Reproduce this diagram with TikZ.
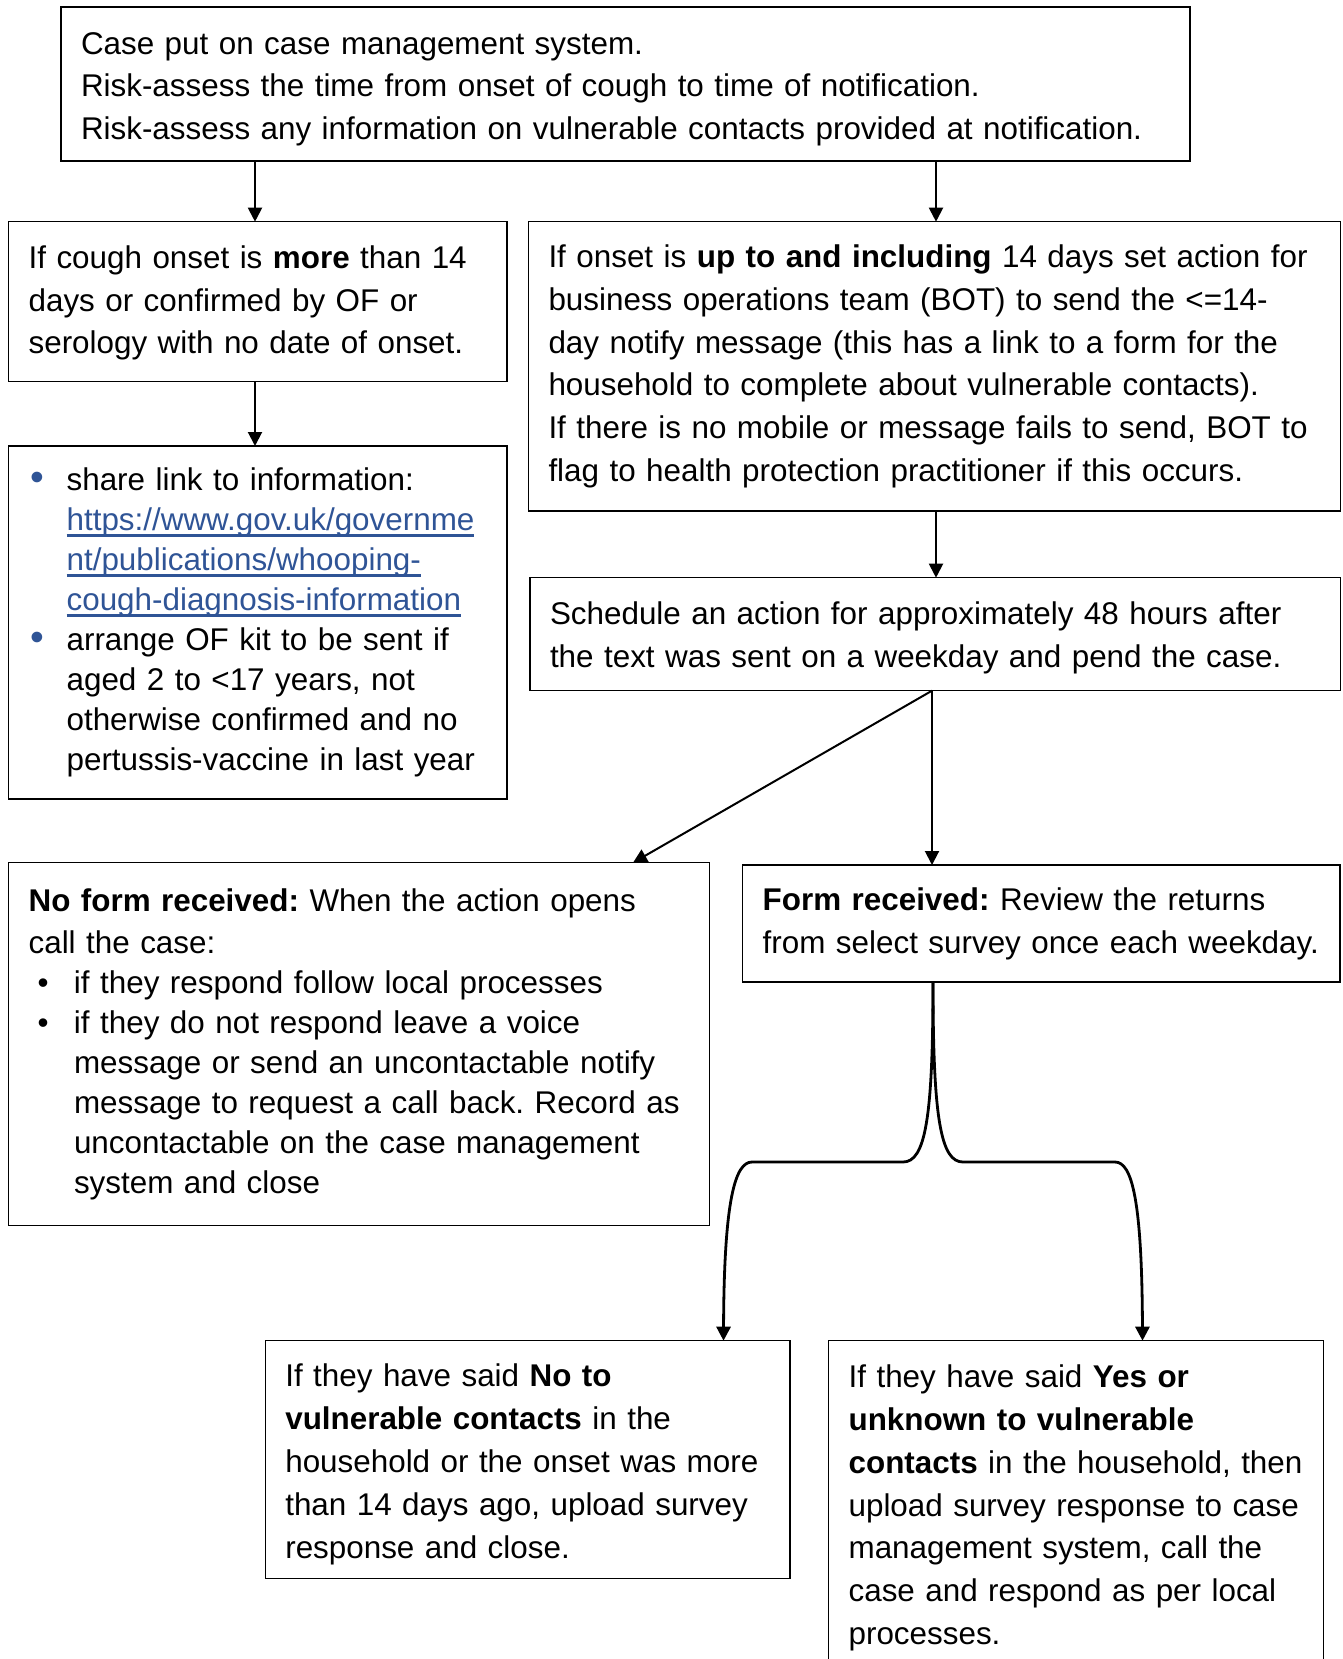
\documentclass[tikz,border=0pt]{standalone}
\usepackage{fontspec}
\setmainfont{Liberation Sans}
\usetikzlibrary{arrows.meta,calc}
\definecolor{linkblue}{RGB}{47,84,150}
\frenchspacing
\newcommand\bulb{\makebox[19pt][l]{\hspace{1pt}\textcolor{linkblue}{\scalebox{1.25}{\textbullet}}}}
\newcommand\indb{\hspace*{19pt}}
\newcommand\bulk{\makebox[22.7pt][l]{\hspace{4.5pt}\textbullet}}
\newcommand\indk{\hspace*{22.7pt}}
\newcommand\lnk[1]{\textcolor{linkblue}{\setbox0\hbox{#1}\rlap{\rule[-3pt]{\wd0}{1.1pt}}\box0}}
\newcommand\tstrut[1]{\rule{0pt}{#1}}
\begin{document}
\begin{tikzpicture}[x=0.5pt,y=-0.5pt,
  box/.style={draw, line width=0.75pt, rectangle, anchor=north west, align=left,
    inner xsep=10pt, inner ysep=0pt, outer sep=0pt, font=\fontsize{15.7}{21.4}\selectfont\frenchspacing},
  arr/.style={line width=1pt, -{Triangle[length=7pt,width=7pt]}},
  brc/.style={line width=1.4pt, -{Triangle[length=7pt,width=7pt]}},
]
\useasboundingbox (0,0) rectangle (1343,1659);
\clip (0,0) rectangle (1343,1659);

\node[box, font=\fontsize{15.7}{21.2}\selectfont\frenchspacing, minimum width=564.5pt, minimum height=77pt, text width=544.5pt] (top) at (61,7)
{\tstrut{16pt}Case put on case management system.\\
Risk-assess the time from onset of cough to time of notification.\\
Risk-assess any information on vulnerable contacts provided at notification.};

\node[box, minimum width=249.2pt, minimum height=80pt, text width=229.2pt] (L1) at (8.6,221.7)
{\tstrut{12.6pt}If cough onset is \textbf{more} than 14\\
days or confirmed by OF or\\
serology with no date of onset.};

\node[box, font=\fontsize{15.7}{21.35}\selectfont\frenchspacing, minimum width=406pt, minimum height=144.65pt, text width=386pt] (R1) at (528.5,221.7)
{If onset is \textbf{up to and including} 14 days set action for\\
business operations team (BOT) to send the <=14-\\
day notify message (this has a link to a form for the\\
household to complete about vulnerable contacts).\\
If there is no mobile or message fails to send, BOT to\\
flag to health protection practitioner if this occurs.};

\node[box, font=\fontsize{15.7}{20}\selectfont\frenchspacing, minimum width=249.2pt, minimum height=176.5pt, text width=229.2pt] (L2) at (8.6,446)
{\bulb share link to information:\\
\indb\lnk{https://www.gov.uk/governme}\\
\indb\lnk{nt/publications/whooping-}\\
\indb\lnk{cough-diagnosis-information}\\
\bulb arrange OF kit to be sent if\\
\indb aged 2 to <17 years, not\\
\indb otherwise confirmed and no\\
\indb pertussis-vaccine in last year};

\node[box, font=\fontsize{15.7}{21.7}\selectfont\frenchspacing, minimum width=405.25pt, minimum height=56.5pt, text width=385.25pt] (R2) at (530,577.7)
{\tstrut{15.3pt}Schedule an action for approximately 48 hours after\\
the text was sent on a weekday and pend the case.};

\node[box, font=\fontsize{15.7}{19.95}\selectfont\frenchspacing, minimum width=350.35pt, minimum height=181.4pt, text width=330.35pt] (NF) at (8.6,862.7)
{\textbf{No form received:} When the action opens\\[1.2pt]
call the case:\\
\bulk if they respond follow local processes\\
\bulk if they do not respond leave a voice\\
\indk message or send an uncontactable notify\\
\indk message to request a call back. Record as\\
\indk uncontactable on the case management\\
\indk system and close};

\node[box, minimum width=298.65pt, minimum height=58.5pt, text width=278.65pt] (FR) at (742.7,865)
{\textbf{Form received:} Review the returns\\
from select survey once each weekday.};

\node[box, minimum width=262.35pt, minimum height=118.8pt, text width=242.35pt] (BL) at (265.3,1340.7)
{\tstrut{16.2pt}If they have said \textbf{No to}\\
\textbf{vulnerable contacts} in the\\
household or the onset was more\\
than 14 days ago, upload survey\\
response and close.};

\node[box, inner ysep=12.1pt, minimum width=247.45pt, text width=227.45pt] (BR) at (828.6,1340.7)
{If they have said \textbf{Yes or}\\
\textbf{unknown to vulnerable}\\
\textbf{contacts} in the household, then\\
upload survey response to case\\
management system, call the\\
case and respond as per local\\
processes.};

\coordinate (ca) at (255,0);
\coordinate (cb) at (936,0);
\coordinate (cc) at (932,0);
\coordinate (cd) at (633,0);
\coordinate (bx) at (933,0);
\coordinate (blx) at (723.5,0);
\coordinate (brx) at (1142.5,0);

\draw[arr] (ca |- top.south) -- (ca |- L1.north);
\draw[arr] (cb |- top.south) -- (cb |- R1.north);
\draw[arr] (ca |- L1.south) -- (ca |- L2.north);
\draw[arr] (cb |- R1.south) -- (cb |- R2.north);
\draw[arr] (cc |- R2.south) -- (cd |- NF.north);
\draw[arr] (cc |- R2.south) -- (cc |- FR.north);

\draw[brc] (bx |- FR.south) .. controls (933,1120) and (925,1162) .. (903,1162)
  -- (752,1162) .. controls (735,1162) and (724,1200) .. (blx |- BL.north);
\draw[brc] (bx |- FR.south) .. controls (933,1120) and (941,1162) .. (963,1162)
  -- (1115,1162) .. controls (1132,1162) and (1142,1200) .. (brx |- BR.north);
\end{tikzpicture}
\end{document}
